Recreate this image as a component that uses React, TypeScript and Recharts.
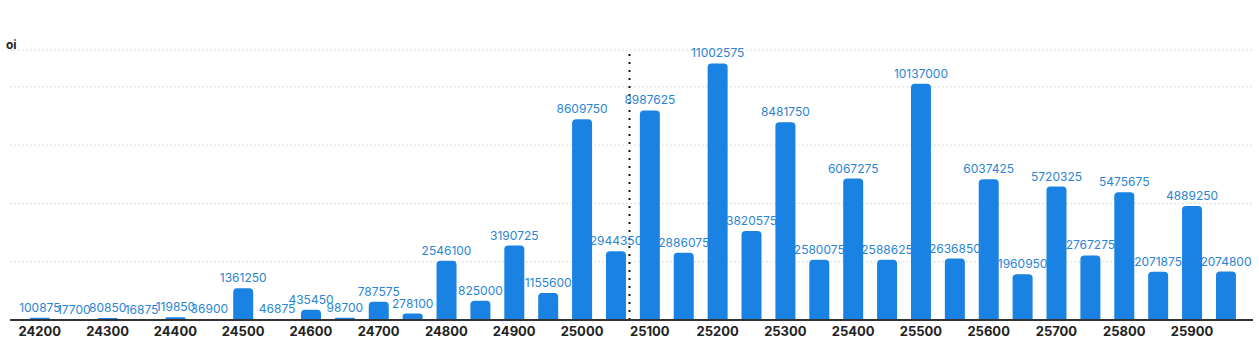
import { BarChart, Bar, XAxis, YAxis, CartesianGrid, ReferenceLine, LabelList } from 'recharts'

// strike prices, 50 apart
const strikes = [
  24200, 24250, 24300, 24350, 24400, 24450, 24500, 24550, 24600, 24650,
  24700, 24750, 24800, 24850, 24900, 24950, 25000, 25050, 25100, 25150,
  25200, 25250, 25300, 25350, 25400, 25450, 25500, 25550, 25600, 25650,
  25700, 25750, 25800, 25850, 25900, 25950,
]

const oi = [
  100875, 17700, 80850, 16875, 119850, 36900, 1361250, 46875, 435450, 98700,
  787575, 278100, 2546100, 825000, 3190725, 1155600, 8609750, 2944350, 8987625, 2886075,
  11002575, 3820575, 8481750, 2580075, 6067275, 2588625, 10137000, 2636850, 6037425, 1960950,
  5720325, 2767275, 5475675, 2071875, 4889250, 2074800,
]

const xTicks = [24200, 24300, 24400, 24500, 24600, 24700, 24800, 24900, 25000, 25100, 25200, 25300, 25400, 25500, 25600, 25700, 25800, 25900]
const yTicks = [0, 2500000, 5000000, 7500000, 10000000]
const spot = 25070

const data = strikes.map((strike, i) => ({ strike, oi: oi[i] }))

const FONT = 'Inter, "Noto Sans", sans-serif'

export default function App() {
  return (
    <div style={{ position: 'fixed', left: 0, top: 0, width: 1259, height: 342, background: '#fff', fontFamily: FONT }}>
      <div style={{ position: 'absolute', left: 6, top: 37, fontSize: 12, fontWeight: 700, color: '#222' }}>oi</div>
      <BarChart width={1259} height={342} data={data} margin={{ top: 50, right: 6, bottom: 0, left: 10 }}>
        <CartesianGrid vertical={false} stroke="#dcdcdc" strokeDasharray="2 2" />
        <XAxis
          dataKey="strike"
          type="number"
          domain={[24156, 25990]}
          ticks={xTicks}
          allowDataOverflow
          tickLine={false}
          axisLine={{ stroke: '#333', strokeWidth: 2 }}
          tick={{ fill: '#222', fontSize: 13, fontWeight: 700, fontFamily: FONT }}
          tickMargin={1}
          height={22}
        />
        <YAxis hide domain={[0, 11580000]} ticks={yTicks} />
        <ReferenceLine
          x={spot}
          stroke="#111"
          strokeWidth={2}
          strokeDasharray="2 6"
          segment={[{ x: spot, y: 11580000 }, { x: spot, y: -260000 }]}
          ifOverflow="visible"
        />
        <Bar dataKey="oi" fill="#1a82e3" barSize={20} radius={[4, 4, 0, 0]} isAnimationActive={false}>
          <LabelList dataKey="oi" position="top" offset={6} fill="#2a84d4" fontSize={12} fontFamily={FONT} />
        </Bar>
      </BarChart>
    </div>
  )
}
